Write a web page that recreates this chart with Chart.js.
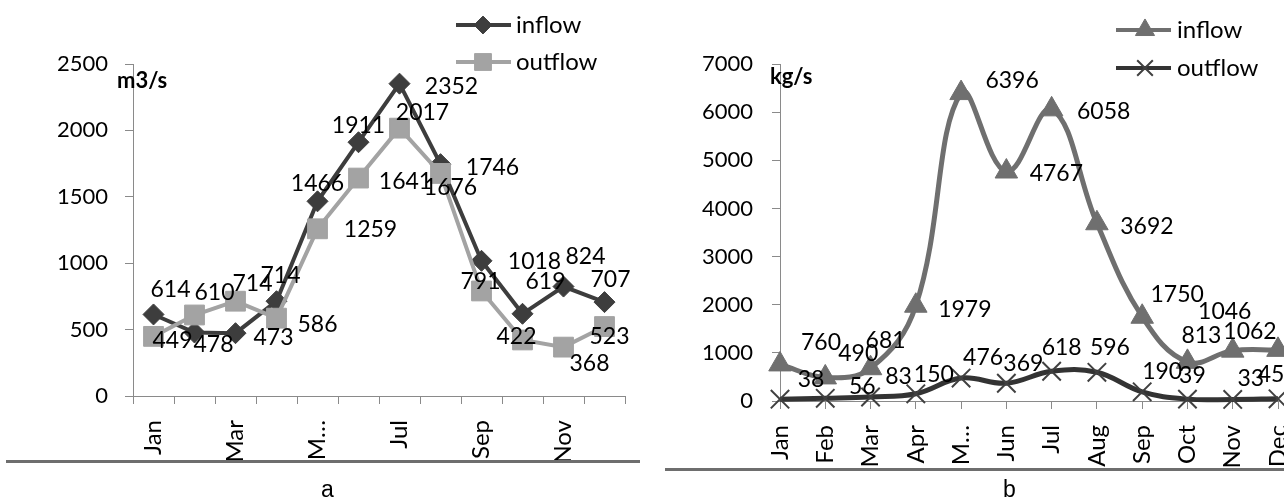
<!DOCTYPE html>
<html>
<head>
<meta charset="utf-8">
<script src="https://cdn.jsdelivr.net/npm/chart.js@4.4.1/dist/chart.umd.min.js"></script>
<style>
  body { margin: 0; background: #fff; width: 1284px; height: 503px; overflow: hidden; position: relative; }
  canvas { position: absolute; top: 0; }
  #chartA { left: 0; }
  #chartB { left: 640px; }
  .rule { position: absolute; height: 3px; background: #6e6e6e; }
  .cap { position: absolute; top: 476px; font: 23px "Liberation Sans", Arial, sans-serif; color: #000; }
</style>
</head>
<body>
<canvas id="chartA" width="640" height="503"></canvas>
<canvas id="chartB" width="644" height="503"></canvas>
<div class="rule" style="left:6px; top:460px; width:634px;"></div>
<div class="rule" style="left:665px; top:468px; width:619px;"></div>
<div class="cap" style="left:321px;">a</div>
<div class="cap" style="left:1003px;">b</div>

<script>
// data
const months = ['Jan', 'Feb', 'Mar', 'Apr', 'May', 'Jun', 'Jul', 'Aug', 'Sep', 'Oct', 'Nov', 'Dec'];
const tickLabelsA = ['Jan', '', 'Mar', '', 'M…', '', 'Jul', '', 'Sep', '', 'Nov', ''];
const tickLabelsB = ['Jan', 'Feb', 'Mar', 'Apr', 'M…', 'Jun', 'Jul', 'Aug', 'Sep', 'Oct', 'Nov', 'Dec'];

const waterIn  = [614, 478, 473, 714, 1466, 1911, 2352, 1746, 1018, 619, 824, 707];   // m3/s
const waterOut = [449, 610, 714, 586, 1259, 1641, 2017, 1676, 791, 422, 368, 523];
const loadIn   = [760, 490, 681, 1979, 6396, 4767, 6058, 3692, 1750, 813, 1046, 1062]; // kg/s
const loadOut  = [38, 56, 83, 150, 476, 369, 618, 596, 190, 39, 33, 45];

// where each value label sits, relative to its point (dx, dy)
const offWaterIn  = [[17,-25],[19,12],[38,4],[4,-26],[0,-18],[0,-17],[52,3],[52,3],[53,1],[23,-32],[22,-30],[6,-23]];
const offWaterOut = [[19,4],[20,-22],[17,-18],[41,6],[53,1],[47,4],[23,-16],[10,14],[-1,-9],[-6,-3],[26,16],[5,10]];
const offLoadIn   = [[41,-22],[33,-24],[15,-28],[49,4],[51,-13],[50,2],[52,2],[50,3],[35,-22],[14,-26],[-8,-39],[-28,-18]];
const offLoadOut  = [[31,-20],[37,-12],[28,-20],[18,-19],[22,-21],[17,-20],[10,-24],[13,-25],[20,-20],[5,-24],[18,-21],[-7,-24]];

const FONT = 'Lato';
const AXIS = '#8a8a8a';

// value labels, legend and unit label
const extras = {
  id: 'extras',
  afterDatasetsDraw(chart, args, opts) {
    const ctx = chart.ctx;
    ctx.save();
    ctx.font = '23px ' + FONT;
    ctx.fillStyle = '#000';
    ctx.textAlign = 'center';
    ctx.textBaseline = 'middle';
    chart.data.datasets.forEach((ds, i) => {
      const meta = chart.getDatasetMeta(i);
      meta.data.forEach((pt, j) => {
        const o = ds.labelOffsets[j];
        ctx.fillText(String(ds.data[j]), pt.x + o[0], pt.y + o[1]);
      });
    });

    // legend
    chart.data.datasets.forEach((ds, i) => {
      const y = opts.legendY[i];
      ctx.strokeStyle = ds.borderColor;
      ctx.lineWidth = 4;
      ctx.beginPath();
      ctx.moveTo(opts.legendX[0], y);
      ctx.lineTo(opts.legendX[2], y);
      ctx.stroke();
      ctx.fillStyle = ds.pointBackgroundColor;
      ctx.strokeStyle = ds.pointBorderColor;
      ctx.lineWidth = ds.pointBorderWidth;
      Chart.helpers.drawPoint(ctx, {
        pointStyle: ds.pointStyle, radius: ds.pointRadius * 0.85,
        borderWidth: ds.pointBorderWidth, rotation: 0
      }, opts.legendX[1], y);
      ctx.fillStyle = '#000';
      ctx.font = '24px ' + FONT;
      ctx.textAlign = 'left';
      ctx.fillText(ds.label, opts.legendX[3], y);
    });

    // unit
    ctx.font = 'bold 22px ' + FONT;
    ctx.textAlign = 'left';
    ctx.fillText(opts.unit, opts.unitX, opts.unitY);
    ctx.restore();
  }
};

function xScale(labels, offset, height) {
  return {
    type: 'category',
    offset: offset,
    grid: { drawOnChartArea: false, offset: offset, tickLength: 8, color: AXIS },
    border: { color: AXIS, width: 1 },
    ticks: {
      autoSkip: false, maxRotation: 90, minRotation: 90, padding: 16,
      color: '#000', font: { family: FONT, size: 24 },
      callback: (v, i) => labels[i]
    },
    afterFit: s => { s.height = height; s.paddingLeft = 0; s.paddingRight = 0; }
  };
}

function yScale(max, step, width, pad) {
  return {
    min: 0, max: max,
    grid: { drawOnChartArea: false, tickLength: 8, color: AXIS },
    border: { color: AXIS, width: 1 },
    ticks: {
      stepSize: step, padding: pad, color: '#000', font: { family: FONT, size: 22 },
      callback: v => String(v)
    },
    afterFit: s => { s.width = width; s.paddingTop = 0; s.paddingBottom = 0; }
  };
}

function series(label, data, offsets, color, style, radius, order, extra) {
  return Object.assign({
    label: label,
    data: data,
    labelOffsets: offsets,
    borderColor: color,
    backgroundColor: color,
    borderWidth: 4,
    pointStyle: style,
    pointRadius: radius,
    pointBackgroundColor: color,
    pointBorderColor: color,
    pointBorderWidth: 1,
    order: order,
    clip: false
  }, extra || {});
}

new Chart(document.getElementById('chartA'), {
  type: 'line',
  data: {
    labels: months,
    datasets: [
      series('inflow', waterIn, offWaterIn, '#3d3d3d', 'rectRot', 10.5, 1),
      series('outflow', waterOut, offWaterOut, '#a3a3a3', 'rect', 14, 0)
    ]
  },
  options: {
    responsive: false, animation: false, devicePixelRatio: 1,
    layout: { autoPadding: false, padding: { left: 0, top: 64, right: 15, bottom: 0 } },
    scales: { x: xScale(tickLabelsA, true, 107), y: yScale(2500, 500, 133, 17) },
    plugins: {
      legend: { display: false }, tooltip: { enabled: false },
      extras: { legendX: [456, 483, 511, 516], legendY: [25, 62], unit: 'm3/s', unitX: 117, unitY: 81 }
    }
  },
  plugins: [extras]
});

new Chart(document.getElementById('chartB'), {
  type: 'line',
  data: {
    labels: months,
    datasets: [
      series('inflow', loadIn, offLoadIn, '#6f6f6f', 'triangle', 13, 1, { tension: 0.4, borderWidth: 5 }),
      series('outflow', loadOut, offLoadOut, '#333333', 'crossRot', 13, 0,
        { tension: 0.4, borderWidth: 5, pointBorderColor: '#404040', pointBorderWidth: 2 })
    ]
  },
  options: {
    responsive: false, animation: false, devicePixelRatio: 1,
    layout: { autoPadding: false, padding: { left: 0, top: 64, right: 6, bottom: 0 } },
    scales: { x: xScale(tickLabelsB, false, 102), y: yScale(7000, 1000, 140, 19) },
    plugins: {
      legend: { display: false }, tooltip: { enabled: false },
      extras: { legendX: [476, 505, 531, 537], legendY: [30, 68], unit: 'kg/s', unitX: 130, unitY: 77 }
    }
  },
  plugins: [extras]
});
</script>
</body>
</html>
